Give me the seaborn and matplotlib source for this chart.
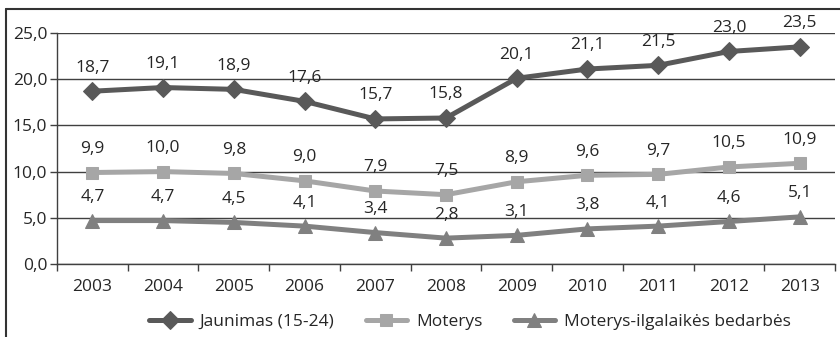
import matplotlib
matplotlib.use("Agg")
import matplotlib.pyplot as plt
import seaborn as sns
import pandas as pd
from matplotlib.lines import Line2D
from matplotlib.ticker import FixedLocator, FuncFormatter

years = [2003, 2004, 2005, 2006, 2007, 2008, 2009, 2010, 2011, 2012, 2013]
jaunimas = [18.7, 19.1, 18.9, 17.6, 15.7, 15.8, 20.1, 21.1, 21.5, 23.0, 23.5]
moterys = [9.9, 10.0, 9.8, 9.0, 7.9, 7.5, 8.9, 9.6, 9.7, 10.5, 10.9]
ilgalaikes = [4.7, 4.7, 4.5, 4.1, 3.4, 2.8, 3.1, 3.8, 4.1, 4.6, 5.1]
series_names = ["Jaunimas (15-24)", "Moterys", "Moterys-ilgalaikės bedarbės"]
y_ticks = [0, 5, 10, 15, 20, 25]

sns.set_style("white")
plt.rcParams["font.family"] = ["Open Sans", "DejaVu Sans"]

df = pd.DataFrame({"year": years, series_names[0]: jaunimas,
                   series_names[1]: moterys, series_names[2]: ilgalaikes})

fig = plt.figure(figsize=(8.4, 3.37), dpi=100)
ax = fig.add_axes([57 / 840, 1 - 264 / 337, (835 - 57) / 840, (264 - 33) / 337])

styles = [
    (series_names[0], "#595959", "D", 9),
    (series_names[1], "#a6a6a6", "s", 9),
    (series_names[2], "#808080", "^", 10),
]
txt_color = "#262626"
fs = 12.5
for name, col, mk, ms in styles:
    sns.lineplot(data=df, x="year", y=name, ax=ax, color=col, linewidth=3.6,
                 marker=mk, markersize=ms, markeredgecolor=col, label=name,
                 zorder=3)
    for xv, yv in zip(df["year"], df[name]):
        ax.annotate(f"{yv:.1f}".replace(".", ","), (xv, yv), xytext=(0, 17),
                    textcoords="offset points", ha="center", va="center",
                    fontsize=fs, color=txt_color, zorder=4)

ax.set_xlim(years[0] - 0.5, years[-1] + 0.5)
ax.set_ylim(0, 25)
ax.set_xticks(years)
ax.xaxis.set_minor_locator(FixedLocator([y - 0.5 for y in years] + [years[-1] + 0.5]))
ax.set_yticks(y_ticks)
ax.yaxis.set_major_formatter(FuncFormatter(lambda v, p: f"{v:.1f}".replace(".", ",")))
ax.tick_params(axis="x", which="major", length=0, pad=11, labelsize=fs, labelcolor=txt_color)
ax.tick_params(axis="x", which="minor", length=5, width=1, color="#404040", direction="out", bottom=True)
ax.tick_params(axis="y", length=5, width=1, color="#404040", direction="out", pad=2,
               labelsize=fs, labelcolor=txt_color, left=True)
ax.set_xlabel("")
ax.set_ylabel("")
ax.grid(axis="y", color="#404040", linewidth=1)
ax.set_axisbelow(True)
for s in ["top", "right"]:
    ax.spines[s].set_visible(False)
for s in ["left", "bottom"]:
    ax.spines[s].set_color("#404040")
    ax.spines[s].set_linewidth(1)

ax.get_legend().remove()
handles, labels = ax.get_legend_handles_labels()
fig.legend(handles, labels, loc="center", bbox_to_anchor=(470 / 840, 1 - 322 / 337),
           ncol=3, frameon=False, fontsize=fs, handlelength=2.4, handletextpad=0.5,
           columnspacing=1.8, labelcolor=txt_color)

fig.add_artist(Line2D([6 / 840, 1], [1 - 9 / 337] * 2, transform=fig.transFigure,
                      color="#333333", linewidth=1.5))
fig.add_artist(Line2D([6 / 840] * 2, [0, 1 - 9 / 337], transform=fig.transFigure,
                      color="#333333", linewidth=1.5))

fig.savefig("out.png", dpi=100)
